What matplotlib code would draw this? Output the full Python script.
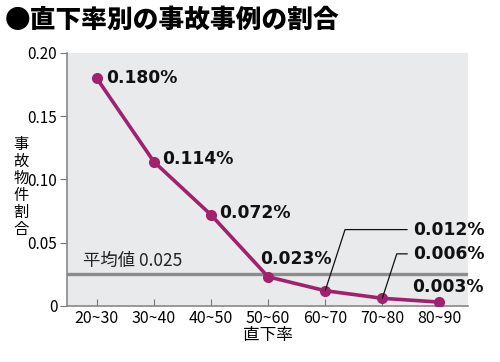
import matplotlib
matplotlib.use("Agg")
import matplotlib.pyplot as plt

plt.rcParams['font.family'] = ['Noto Sans CJK JP', 'DejaVu Sans']

categories = ["20~30", "30~40", "40~50", "50~60", "60~70", "70~80", "80~90"]
values = [0.180, 0.114, 0.072, 0.023, 0.012, 0.006, 0.003]
labels = ["0.180%", "0.114%", "0.072%", "0.023%", "0.012%", "0.006%", "0.003%"]
average = 0.025
yticks = [0, 0.05, 0.10, 0.15, 0.20]
ytick_labels = ["0", "0.05", "0.10", "0.15", "0.20"]

fig = plt.figure(figsize=(5, 3.62), dpi=100)
ax = fig.add_axes([0.134, 0.155, 0.802, 0.699])
ax.set_facecolor('#e9eaec')

line_color = '#a0226c'
x = list(range(len(categories)))
ax.plot(x, values, color=line_color, lw=2.6, marker='o', ms=7, zorder=3)
ax.axhline(average, color='#8c8c8c', lw=2.4, zorder=2)
ax.text(0.04, average + 0.0035, "平均値 0.025", transform=ax.get_yaxis_transform(),
        fontsize=12.5, va='bottom', ha='left', color='#222222')

ax.set_xlim(-0.52, 6.5)
ax.set_ylim(0, 0.20)
ax.set_yticks(yticks)
ax.set_yticklabels(ytick_labels, fontsize=11)
ax.set_xticks(x)
ax.set_xticklabels(categories, fontsize=11.5)
ax.tick_params(axis='y', direction='out', length=5, color='#777777', pad=2)
ax.tick_params(axis='x', direction='in', length=5, color='#777777', pad=3)
for s in ['top', 'right']:
    ax.spines[s].set_visible(False)
for s in ['left', 'bottom']:
    ax.spines[s].set_color('#888888')
    ax.spines[s].set_linewidth(1.2)

fw = dict(fontsize=12.3, fontweight='bold', color='#111111', family=['DejaVu Sans'])
# direct labels
ax.annotate(labels[0], (x[0], values[0]), xytext=(7, 0), textcoords='offset points', va='center', ha='left', **fw)
ax.annotate(labels[1], (x[1], values[1]), xytext=(6, 2), textcoords='offset points', va='center', ha='left', **fw)
ax.annotate(labels[2], (x[2], values[2]), xytext=(6, 1), textcoords='offset points', va='center', ha='left', **fw)
ax.annotate(labels[3], (x[3], values[3]), xytext=(-6, 13), textcoords='offset points', va='center', ha='left', **fw)
ax.annotate(labels[4], (x[4], values[4]), xytext=(63, 44), textcoords='offset points', va='center', ha='left',
            arrowprops=dict(arrowstyle='-', color='#111111', lw=0.9, shrinkA=2, shrinkB=0,
                            connectionstyle='angle,angleA=0,angleB=72,rad=0'), **fw)
ax.annotate(labels[5], (x[5], values[5]), xytext=(22, 32), textcoords='offset points', va='center', ha='left',
            arrowprops=dict(arrowstyle='-', color='#111111', lw=0.9, shrinkA=2, shrinkB=0,
                            connectionstyle='angle,angleA=0,angleB=72,rad=0'), **fw)
ax.annotate(labels[6], (x[6], values[6]), xytext=(-20, 11), textcoords='offset points', va='center', ha='left', **fw)

ax.set_xlabel("直下率", fontsize=12, labelpad=0)
fig.text(0.042, 0.483, "事\n故\n物\n件\n割\n合", fontsize=11, ha='center', va='center', linespacing=1.0)
fig.text(0.01, 0.945, "●直下率別の事故事例の割合", fontsize=18.5, fontweight='black', ha='left', va='center')

fig.savefig("out.png", dpi=100)
